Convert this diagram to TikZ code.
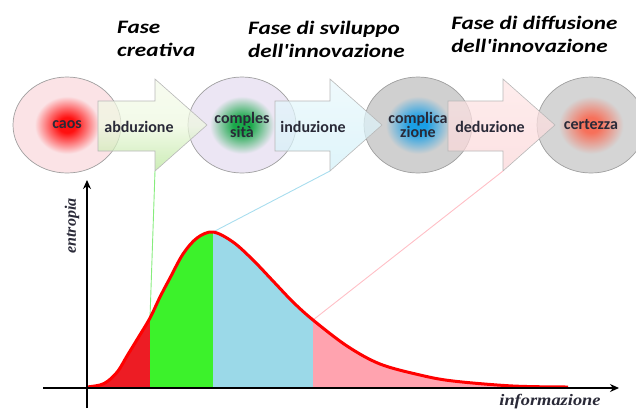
\documentclass[tikz,border=0pt]{standalone}
\usepackage{fontspec}
\setmainfont{Carlito}
\newfontfamily\lblserif{Liberation Serif}
\usetikzlibrary{shapes.geometric,arrows.meta}
\definecolor{caosfill}{HTML}{FBE3E6}
\definecolor{complfill}{HTML}{ECE6F4}
\definecolor{greyfillA}{HTML}{D0D0D0}
\definecolor{greyfillB}{HTML}{D5D5D5}
\definecolor{circedge}{HTML}{A0A0A0}
\definecolor{arrowedge}{HTML}{B8B8B8}
\definecolor{bandred}{HTML}{ED1C24}
\definecolor{bandgreen}{HTML}{3CF22B}
\definecolor{bandblue}{HTML}{9BD9E8}
\definecolor{bandpink}{HTML}{FFA3AF}
\definecolor{linegreen}{HTML}{86EC7C}
\definecolor{lineblue}{HTML}{A8DDEE}
\definecolor{linepink}{HTML}{FFBFC6}
\definecolor{txtdark}{HTML}{2A2A38}
\definecolor{glowred}{HTML}{FF1010}
\definecolor{glowgreen}{HTML}{1AA84A}
\definecolor{glowblue}{HTML}{1A9FE5}
\definecolor{gloworange}{HTML}{F7705A}
\definecolor{abdtop}{HTML}{F4FAEA}
\definecolor{abdmid}{HTML}{EEF8E0}
\definecolor{abdbot}{HTML}{B8E69A}
\definecolor{indtop}{HTML}{E9F8FC}
\definecolor{indbot}{HTML}{D2F0F8}
\definecolor{dedtop}{HTML}{FDE6E6}
\definecolor{dedbot}{HTML}{FBD6D8}
\colorlet{glowc}{red}
\colorlet{fillc}{white}
\pgfdeclareradialshading[glowc,fillc]{glowshade}{\pgfpoint{0bp}{0bp}}{color(0bp)=(glowc); color(4bp)=(glowc); color(9bp)=(glowc!55!fillc); color(15bp)=(fillc); color(50bp)=(fillc)}
\newcommand\blockarrowpath[3]{(#1,101) -- (#2,101) -- (#2,79) -- (#3,125) -- (#2,171) -- (#2,151) -- (#1,151) -- cycle}
\begin{document}
\begin{tikzpicture}[x=1pt,y=-1pt,
  phase/.style={ellipse, draw=circedge, line width=0.7pt, minimum width=108pt, minimum height=96pt, inner sep=0pt,
    font=\bfseries\fontsize{16}{13.5}\selectfont, text=txtdark, align=center},
  glow/.style 2 args={fill=#2, path picture={\colorlet{glowc}{#1}\colorlet{fillc}{#2}\shade[shading=glowshade] (path picture bounding box.center) ellipse (54pt and 48pt);}},
  arrowlbl/.style={font=\bfseries\fontsize{16}{14}\selectfont, text=txtdark, inner sep=0pt},
  title/.style={font=\bfseries\itshape\fontsize{19}{23}\selectfont, align=left, anchor=north west, inner sep=0pt, text=black, xscale=1.22},
  blockarr/.style={draw=arrowedge, line width=0.6pt, fill opacity=0.72},
  connector/.style={line width=0.9pt},
  axis/.style={line width=1.4pt, -{Stealth[length=9pt,width=8pt]}},
  axlbl/.style={font=\lblserif\bfseries\itshape\fontsize{16}{16}\selectfont, text=txtdark, inner sep=0pt}
]
\useasboundingbox (0,0) rectangle (636,408);

% titles
\node[title] (t1) at (117,21) {Fase\\creativa};
\node[title] (t2) at (248,21) {Fase di sviluppo\\dell\textquotesingle innovazione};
\node[title] (t3) at (451,16) {Fase di diffusione\\dell\textquotesingle innovazione};

% circles
\node[phase, glow={glowred}{caosfill}] (caos) at (67,125) {caos};
\node[phase, glow={glowgreen}{complfill}] (compl) at (242,125) {comples\\sità};
\node[phase, glow={glowblue}{greyfillA}] (complic) at (418,125) {complica\\zione};
\node[phase, glow={gloworange}{greyfillB}] (cert) at (591,125) {certezza};

% block arrows
\path[blockarr, top color=abdtop, bottom color=abdbot, middle color=abdmid] \blockarrowpath{98}{155}{207};
\path[blockarr, top color=indtop, bottom color=indbot] \blockarrowpath{275}{330}{382};
\path[blockarr, top color=dedtop, bottom color=dedbot] \blockarrowpath{448}{503}{555};
\node[arrowlbl] (abd) at (139,127) {abduzione};
\node[arrowlbl] (ind) at (313,127) {induzione};
\node[arrowlbl] (ded) at (490,127) {deduzione};
\coordinate (abdHB) at (155,171);
\coordinate (indHB) at (330,171);
\coordinate (dedHB) at (503,171);

% curve fills
\begin{scope}
\clip (87,388) -- plot[smooth, tension=0.55] coordinates {(87,387) (100,385) (108,381) (118,371) (127,356) (138,338) (150,318) (160,297) (170,278) (183,254) (197,238) (213,232) (233,242) (253,260) (273,281) (293,302) (313,320) (347,346) (380,364) (420,375) (453,381) (513,386) (568,387)} -- (568,388) -- cycle;
\fill[bandred] (87,200) rectangle (150,390);
\fill[bandgreen] (150,200) rectangle (213,390);
\fill[bandblue] (213,200) rectangle (313,390);
\fill[bandpink] (313,200) rectangle (570,390);
\end{scope}

% connectors
\coordinate (g0) at (150,318);
\coordinate (b0) at (213,232);
\coordinate (p0) at (313,320);
\draw[connector, linegreen] (g0) -- (abdHB);
\draw[connector, lineblue] (b0) -- (indHB);
\draw[connector, linepink] (p0) -- (dedHB);

% curve
\draw[red, line width=3pt, line join=round] plot[smooth, tension=0.55] coordinates {(87,387) (100,385) (108,381) (118,371) (127,356) (138,338) (150,318) (160,297) (170,278) (183,254) (197,238) (213,232) (233,242) (253,260) (273,281) (293,302) (313,320) (347,346) (380,364) (420,375) (453,381) (513,386) (568,387)};

% axes
\coordinate (yb) at (87,408);
\coordinate (yt) at (87,180);
\coordinate (xl) at (43,388);
\coordinate (xr) at (619,388);
\draw[axis] (yb) -- (yt);
\draw[axis] (xl) -- (xr);
\node[axlbl, rotate=90] (ent) at (72,226) {entropia};
\node[axlbl, anchor=base, xscale=1.15] (inf) at (550,405) {informazione};
\end{tikzpicture}
\end{document}
